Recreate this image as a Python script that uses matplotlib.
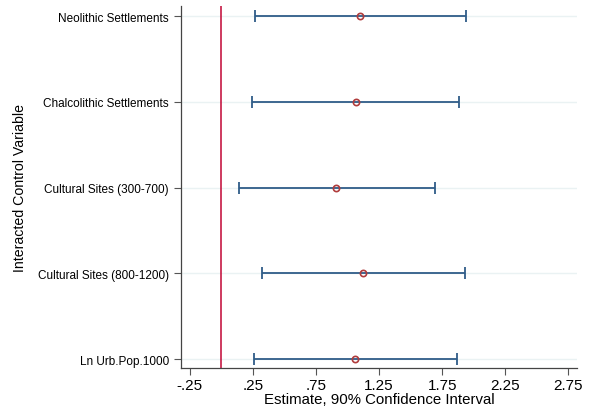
import matplotlib
matplotlib.use("Agg")
import matplotlib.pyplot as plt

plt.rcParams['font.family'] = ['Liberation Sans', 'DejaVu Sans']

labels = [
    'Neolithic Settlements',
    'Chalcolithic Settlements',
    'Cultural Sites (300-700)',
    'Cultural Sites (800-1200)',
    'Ln Urb.Pop.1000',
]
estimates = [1.098, 1.064, 0.910, 1.124, 1.061]
ci_low = [0.266, 0.244, 0.139, 0.321, 0.256]
ci_high = [1.936, 1.883, 1.690, 1.928, 1.866]

xticks = [-0.25, 0.25, 0.75, 1.25, 1.75, 2.25, 2.75]
xticklabels = ['-.25', '.25', '.75', '1.25', '1.75', '2.25', '2.75']

ypos = list(range(len(labels), 0, -1))

fig = plt.figure(figsize=(5.92, 4.14), dpi=100)
ax = fig.add_axes([0.305, 0.108, 0.670, 0.875])

for y in ypos:
    ax.axhline(y, color='#eaf2f3', lw=1.0, zorder=0)

ax.axvline(0, color='#c10534', lw=1.1, zorder=1)

xerr = [[e - lo for e, lo in zip(estimates, ci_low)],
        [hi - e for e, hi in zip(estimates, ci_high)]]
ax.errorbar(estimates, ypos, xerr=xerr, fmt='none', ecolor='#2f5c88',
            elinewidth=1.3, capsize=4, capthick=1.3, zorder=2)
ax.plot(estimates, ypos, 'o', ms=4.5, mfc='none', mec='#b03c3c', mew=1.2, zorder=3)

ax.set_xlim(-0.324, 2.82)
ax.set_ylim(0.895, 5.117)
ax.set_xticks(xticks)
ax.set_xticklabels(xticklabels, fontsize=11)
ax.set_yticks(ypos)
ax.set_yticklabels(labels, fontsize=8.5)
ax.tick_params(axis='both', direction='out', length=5, width=0.8, color='#555555')
ax.tick_params(axis='x', pad=2)

for s in ['top', 'right']:
    ax.spines[s].set_visible(False)
for s in ['left', 'bottom']:
    ax.spines[s].set_color('#444444')
    ax.spines[s].set_linewidth(0.9)

ax.set_xlabel('Estimate, 90% Confidence Interval', fontsize=10.8, labelpad=0)
ax.set_ylabel('Interacted Control Variable', fontsize=10.2, labelpad=8)

fig.savefig('out.png', dpi=100)
